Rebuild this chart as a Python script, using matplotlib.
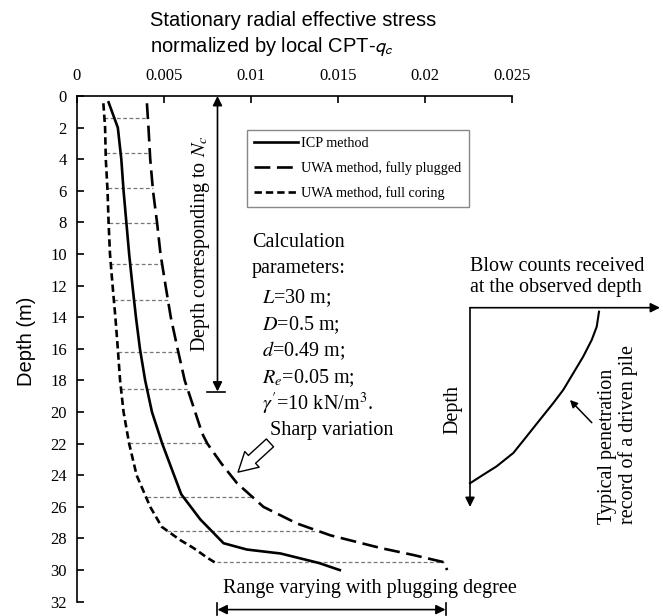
import matplotlib
matplotlib.use("Agg")
import matplotlib.pyplot as plt

W, H = 663, 616

# stationary radial stress / q_c versus depth
icp_depth = [0.4, 2, 4, 6, 8, 10, 12, 14, 16, 18, 20, 22, 24, 25.2, 26.8, 28.3, 28.7, 28.95, 29.55, 30.0]
icp_val = [0.00183, 0.00236, 0.00256, 0.00269, 0.00285, 0.00301, 0.0032, 0.0034, 0.00363, 0.00393,
           0.00432, 0.00491, 0.00559, 0.006, 0.0071, 0.00843, 0.00977, 0.0117, 0.0139, 0.0151]

plug_depth = [0.46, 2, 4, 6, 8, 10, 12, 14, 16, 18, 20, 21.35, 22, 23.25, 24.5, 26, 27.05, 27.8, 28.6, 29.05, 29.5, 30.0]
plug_val = [0.00403, 0.00412, 0.00422, 0.00438, 0.00461, 0.00481, 0.0051, 0.0054, 0.00579, 0.0062,
            0.0068, 0.0072, 0.0075, 0.0083, 0.0092, 0.01072, 0.01264, 0.01456, 0.01743, 0.01934, 0.02107, 0.02126]

core_depth = [0.46, 2, 4, 6, 8, 10, 12, 14, 16, 18, 20, 22, 24, 26, 27.26, 28.1, 28.6, 29.2, 29.6]
core_val = [0.00153, 0.00163, 0.00167, 0.00177, 0.00183, 0.00191, 0.00206, 0.00222, 0.00236, 0.00249,
            0.00269, 0.00301, 0.00344, 0.00422, 0.00488, 0.00594, 0.0067, 0.00747, 0.00805]

# grey connectors between full coring and fully plugged curves
link_depth = [1.39, 3.63, 5.85, 8.06, 10.65, 12.88, 16.2, 18.54, 21.95, 25.4, 27.5, 29.5]
link_left = [0.00158, 0.00166, 0.00177, 0.00183, 0.00193, 0.00212, 0.00237, 0.00252, 0.003, 0.00403, 0.00517, 0.00805]
link_right = [0.00408, 0.00419, 0.00437, 0.00461, 0.00489, 0.00522, 0.00583, 0.00644, 0.00747, 0.01, 0.0137, 0.0211]

xticks = [0, 0.005, 0.01, 0.015, 0.02, 0.025]
xtick_labels = ["0", "0.005", "0.01", "0.015", "0.02", "0.025"]
yticks = list(range(0, 33, 2))

nc_depth = 18.7
nc_x = 0.00808
range_x = [0.00808, 0.02117]
range_y = 32.5

# schematic of a penetration record (normalised inset coords)
blow_x = [0.679, 0.667, 0.641, 0.596, 0.544, 0.491, 0.438, 0.368, 0.298, 0.228, 0.140, 0.070, 0.0]
blow_y = [0.020, 0.095, 0.161, 0.245, 0.328, 0.412, 0.479, 0.562, 0.646, 0.729, 0.796, 0.838, 0.881]

serif = "Liberation Serif"
sans = "Liberation Sans"
plt.rcParams["font.family"] = serif
plt.rcParams["mathtext.fontset"] = "stix"


def fx(x):
    return x / W


def fy(y):
    return 1 - y / H


fig = plt.figure(figsize=(W / 100, H / 100), dpi=100)
ax = fig.add_axes([fx(76.7), fy(601.7), fx(512.3) - fx(76.7), fy(96) - fy(601.7)])

for d, a, b in zip(link_depth, link_left, link_right):
    ax.plot([a, b], [d, d], color="#777777", lw=0.9, dashes=(3, 2))

ax.plot(icp_val, icp_depth, color="k", lw=1.9, label="ICP method")
ax.plot(plug_val, plug_depth, color="k", lw=1.9, dashes=(6, 2.5), label="UWA method, fully plugged")
ax.plot(core_val, core_depth, color="k", lw=1.9, dashes=(2.8, 1.5), label="UWA method, full coring")

ax.set_xlim(0, 0.025)
ax.set_ylim(32, 0)
ax.xaxis.set_ticks_position("top")
ax.set_xticks(xticks)
ax.set_xticklabels(xtick_labels)
ax.set_yticks(yticks)
ax.tick_params(axis="both", direction="in", length=5, width=1.2, labelsize=12)
ax.tick_params(axis="x", pad=9)
ax.tick_params(axis="y", pad=7)
for s in ["right", "bottom"]:
    ax.spines[s].set_visible(False)
for s in ["left", "top"]:
    ax.spines[s].set_linewidth(1.2)

leg = ax.legend(loc="upper left", bbox_to_anchor=(fx(246.7), fy(130)), bbox_transform=fig.transFigure,
                borderaxespad=0, fontsize=10.2, handlelength=3.1, handletextpad=0.25,
                labelspacing=0.8, borderpad=0.5, fancybox=False, framealpha=1)
leg.get_frame().set_edgecolor("#888888")
leg.get_frame().set_linewidth(1.0)

# depth corresponding to N_c
ax.annotate("", xy=(nc_x, 0), xytext=(nc_x, nc_depth),
            arrowprops=dict(arrowstyle="<|-|>", color="k", lw=1.2, mutation_scale=14, shrinkA=0, shrinkB=0))
ax.plot([nc_x - 0.00062, nc_x + 0.00045], [nc_depth, nc_depth], color="k", lw=1.2)
fig.text(fx(200), fy(244), r"Depth corresponding to $N_c$", rotation=90, ha="center", va="center", fontsize=14.5)

# range with plugging degree
ax.annotate("", xy=(range_x[1], range_y), xytext=(range_x[0], range_y), annotation_clip=False,
            arrowprops=dict(arrowstyle="<|-|>", color="k", lw=1.2, mutation_scale=14, shrinkA=0, shrinkB=0))
for xr in range_x:
    ax.plot([xr, xr], [range_y - 0.4, range_y + 0.35], color="k", lw=1.2, clip_on=False)
fig.text(fx(223), fy(588), "Range varying with plugging degree", ha="left", va="center", fontsize=14.5)

# sharp variation
fig.text(fx(270), fy(430), "Sharp variation", ha="left", va="center", fontsize=14.5)
fig.patches.append(matplotlib.patches.FancyArrowPatch(
    (fx(272), fy(441)), (fx(236), fy(474)), transform=fig.transFigure,
    arrowstyle="simple,head_length=0.8,head_width=0.9,tail_width=0.45", mutation_scale=17,
    fc="white", ec="k", lw=1.0))

# calculation parameters
params = ["Calculation", "parameters:", "$L$=30 m;", "$D$=0.5 m;", "$d$=0.49 m;", "$R_e$=0.05 m;",
          r"$\gamma'$=10 kN/m$^3$."]
rows = [243, 269, 298, 325, 351, 378, 404]
for i, (t, r) in enumerate(zip(params, rows)):
    x0 = 251.7 if i < 2 else 261.7
    fig.text(fx(x0), fy(r), t, ha="left", va="center", fontsize=14.5)

# titles
fig.text(fx(150), fy(20), "Stationary radial effective stress", family=sans, fontsize=14.5, ha="left", va="center")
fig.text(fx(150), fy(47), r"normalized by local CPT-$q_c$", family=sans, fontsize=14.5, ha="left",
         va="center", math_fontfamily="stixsans")
fig.text(fx(26.5), fy(341), "Depth (m)", family=sans, fontsize=14.5, rotation=90, ha="center", va="center")

# inset schematic
ins = fig.add_axes([fx(470), fy(507), fx(660) - fx(470), fy(307.7) - fy(507)])
ins.set_xlim(0, 1)
ins.set_ylim(1, 0)
ins.axis("off")
ins.annotate("", xy=(1, 0), xytext=(0, 0), annotation_clip=False,
             arrowprops=dict(arrowstyle="-|>", color="k", lw=1.2, mutation_scale=14, shrinkA=0, shrinkB=0))
ins.annotate("", xy=(0, 1), xytext=(0, 0), annotation_clip=False,
             arrowprops=dict(arrowstyle="-|>", color="k", lw=1.2, mutation_scale=14, shrinkA=0, shrinkB=0))
ins.plot(blow_x, blow_y, color="k", lw=1.5, clip_on=False)
ins.annotate("", xy=(0.526, 0.463), xytext=(0.641, 0.577),
             arrowprops=dict(arrowstyle="-|>", color="k", lw=1.1, mutation_scale=11, shrinkA=0, shrinkB=0))

fig.text(fx(470), fy(277), "Blow counts received\nat the observed depth", ha="left", va="center",
         fontsize=14.5, linespacing=1.2)
fig.text(fx(453), fy(410), "Depth", rotation=90, ha="center", va="center", fontsize=14.5)
fig.text(fx(618), fy(524), "Typical penetration\nrecord of a driven pile", rotation=90, ha="center",
         va="bottom", multialignment="left", fontsize=14.5, linespacing=1.05)

fig.savefig("out.png", dpi=100)
